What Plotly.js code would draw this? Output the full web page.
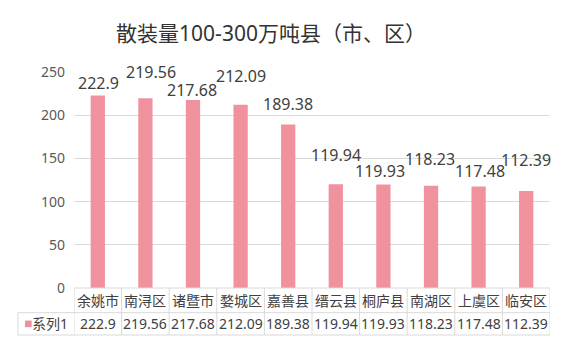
<!DOCTYPE html>
<html><head><meta charset="utf-8">
<script src="https://cdn.plot.ly/plotly-3.0.1.min.js"></script>
<style>html,body{margin:0;padding:0;background:#fff}#c{width:579px;height:354px}</style>
</head><body><div id="c"></div>
<script>
const categories = ["余姚市","南浔区","诸暨市","婺城区","嘉善县","缙云县","桐庐县","南湖区","上虞区","临安区"];
const values = [222.9, 219.56, 217.68, 212.09, 189.38, 119.94, 119.93, 118.23, 117.48, 112.39];
const seriesName = "系列1";
const titleText = "散装量100-300万吨县（市、区）";

// label placement offsets (pixels) imitating the original layout
const labelDy = [12, 26, 10, 29, 20, 29, 13, 26.5, 16, 30.6];
const labelDx = [0.7, 6, -1, 0.4, -0.5, 0, -3.4, -1, 0.9, 0];

const FONT = "Noto Sans, Noto Sans CJK SC, sans-serif";
const barColor = "#EF929D";
const gridColor = "#D9D9D9";
const textColor = "#404040";

const n = categories.length;
const idx = categories.map((_, i) => i);

// table geometry in paper units
const plotH = 216, plotW = 476;
const row1 = -24.7 / plotH, row2 = -47 / plotH;
const headLeft = -56 / plotW;

const annotations = [];
values.forEach((v, i) => {
  annotations.push({x: i, y: v, xref: "x", yref: "y", text: String(v), showarrow: false,
    yanchor: "middle", xanchor: "center", yshift: labelDy[i], xshift: labelDx[i],
    font: {family: FONT, size: 16, color: textColor}});
  annotations.push({x: i, y: row1 / 2, xref: "x", yref: "paper", text: categories[i], showarrow: false,
    yanchor: "middle", xanchor: "center", font: {family: FONT, size: 14, color: textColor}});
  annotations.push({x: i, y: (row1 + row2) / 2, xref: "x", yref: "paper", text: String(v), showarrow: false,
    yanchor: "middle", xanchor: "center", font: {family: FONT, size: 14, color: textColor}});
});
annotations.push({x: -44 / plotW, y: (row1 + row2) / 2, xref: "paper", yref: "paper", text: seriesName,
  showarrow: false, xanchor: "left", yanchor: "middle", font: {family: FONT, size: 14, color: textColor}});

const shapes = [];
const line = {color: gridColor, width: 1};
shapes.push({type: "line", xref: "paper", yref: "paper", x0: 0, x1: 1, y0: 0, y1: 0, line});
shapes.push({type: "line", xref: "paper", yref: "paper", x0: headLeft, x1: 1, y0: row1, y1: row1, line});
shapes.push({type: "line", xref: "paper", yref: "paper", x0: headLeft, x1: 1, y0: row2, y1: row2, line});
shapes.push({type: "line", xref: "paper", yref: "paper", x0: headLeft, x1: headLeft, y0: row1, y1: row2, line});
for (let i = 0; i <= n; i++) {
  shapes.push({type: "line", xref: "x", yref: "paper", x0: i - 0.5, x1: i - 0.5, y0: 0, y1: row2, line});
}
shapes.push({type: "rect", xref: "paper", yref: "paper", x0: -49 / plotW, x1: -42.3 / plotW,
  y0: (row1 + row2) / 2 - 3.3 / plotH, y1: (row1 + row2) / 2 + 3.3 / plotH,
  fillcolor: barColor, line: {width: 0}});

const trace = {type: "bar", x: idx, y: values, name: seriesName, marker: {color: barColor},
  hoverinfo: "skip"};

const layout = {
  width: 579, height: 354,
  margin: {l: 74, r: 29, t: 72, b: 66},
  paper_bgcolor: "#fff", plot_bgcolor: "#fff",
  bargap: 0.7,
  showlegend: false,
  title: {text: titleText, font: {family: FONT, size: 21, color: "#333333"},
    xref: "container", yref: "container", x: 271 / 579, xanchor: "center", y: 1 - 34 / 354, yanchor: "middle"},
  xaxis: {range: [-0.5, n - 0.5], showticklabels: false, showgrid: false, zeroline: false, ticks: "", fixedrange: true},
  yaxis: {range: [0, 250], dtick: 50, tick0: 0, showgrid: true, gridcolor: gridColor, gridwidth: 1,
    zeroline: false, showline: false, ticks: "", ticklen: 0, ticklabelstandoff: 8,
    tickfont: {family: FONT, size: 14, color: "#595959"}, automargin: false},
  annotations, shapes
};
Plotly.newPlot("c", [trace], layout, {staticPlot: true, displayModeBar: false});
</script></body></html>
